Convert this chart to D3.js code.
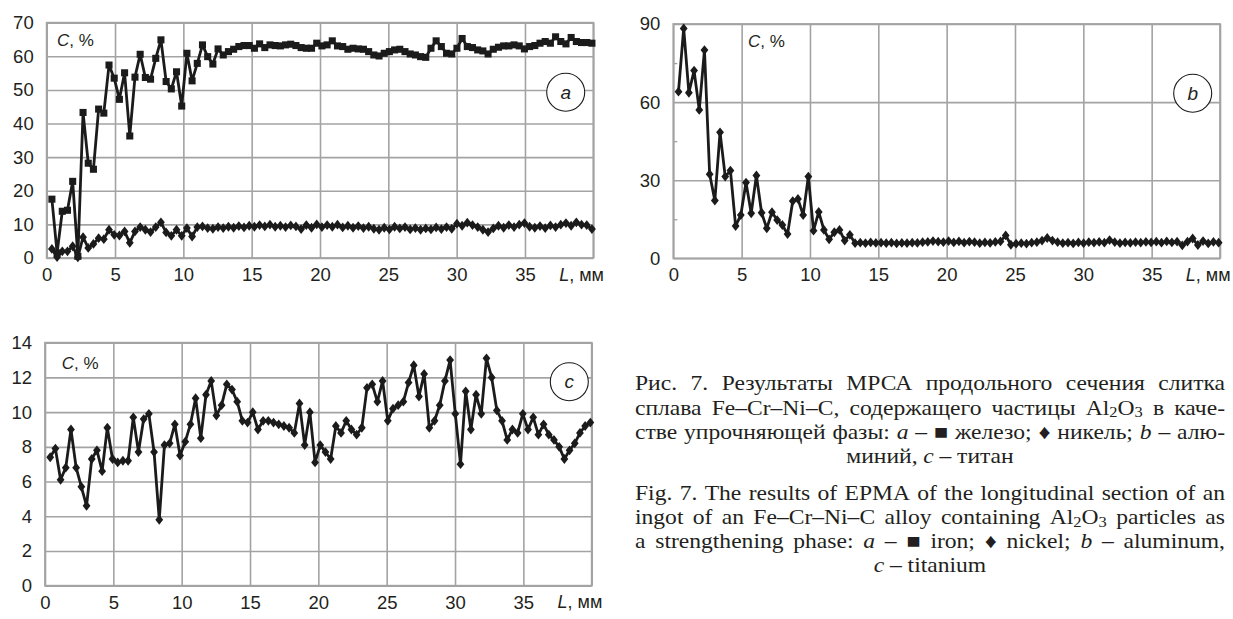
<!DOCTYPE html>
<html>
<head>
<meta charset="utf-8">
<script src="https://cdn.jsdelivr.net/npm/d3@7"></script>
<style>
  html, body { margin: 0; padding: 0; background: #fff; }
  svg { display: block; }
  .tick text { font-family: "Liberation Sans", Arial, sans-serif; font-size: 18.5px; fill: #231f20; }
</style>
</head>
<body>
<svg id="chart" width="1233" height="619"></svg>
<script>
// ---------- DATA ----------
// sample positions along the ingot, mm
const L = [0.38,0.76,1.14,1.52,1.90,2.28,2.66,3.04,3.42,3.80,4.18,4.56,4.94,5.32,5.70,6.08,6.46,6.84,7.22,7.60,
  7.98,8.36,8.74,9.12,9.50,9.88,10.26,10.64,11.02,11.40,11.78,12.16,12.54,12.92,13.30,13.68,14.06,14.44,14.82,15.20,
  15.58,15.96,16.34,16.72,17.10,17.48,17.86,18.24,18.62,19.00,19.38,19.76,20.14,20.52,20.90,21.28,21.66,22.04,22.42,22.80,
  23.18,23.56,23.94,24.32,24.70,25.08,25.46,25.84,26.22,26.60,26.98,27.36,27.74,28.12,28.50,28.88,29.26,29.64,30.02,30.40,
  30.78,31.16,31.54,31.92,32.30,32.68,33.06,33.44,33.82,34.20,34.58,34.96,35.34,35.72,36.10,36.48,36.86,37.24,37.62,38.00,
  38.38,38.76,39.14,39.52,39.90];

// (a) iron, %
const ironA = [17.5,1.5,13.9,14.2,22.8,0.5,43.3,28.2,26.4,44.3,43.1,57.4,53.5,47.2,55.1,36.3,53.8,60.6,53.7,53.2,
  59.4,64.9,52.5,50.3,55.4,45.2,60.9,52.7,57.9,63.4,59.9,57.7,62.2,60.4,61.4,62.1,62.9,63.2,63.2,62.4,
  63.7,62.6,63.4,63.2,63.1,63.4,63.6,63.2,62.6,62.4,62.4,63.9,63.1,63.4,64.6,63.1,62.9,62.1,62.4,62.2,
  62.1,61.4,60.4,60.1,60.9,61.4,61.9,62.1,61.4,60.7,60.4,59.9,59.7,62.4,64.6,62.9,60.9,60.7,62.4,65.3,
  62.9,62.6,61.9,61.6,60.7,62.1,62.7,63.1,63.1,63.4,63.1,62.2,62.9,63.2,63.9,64.4,63.9,65.8,64.4,63.7,
  65.6,64.4,64.1,64.1,63.9];
// (a) nickel, %
const nickelA = [2.7,0.3,2.0,2.0,3.5,0.2,6.2,3.0,4.2,5.9,5.6,8.4,6.9,6.7,7.9,4.5,7.9,9.2,8.4,7.7,
  9.2,10.6,7.6,6.6,8.4,6.6,8.9,6.4,9.2,9.4,8.9,8.7,9.2,8.9,9.3,9.0,9.5,9.1,9.6,9.3,
  9.8,9.4,9.9,9.3,9.6,9.2,9.7,9.4,8.6,9.8,9.0,10.0,9.2,9.8,9.3,9.9,9.1,9.6,9.0,9.5,
  8.9,9.3,8.7,8.4,9.0,8.5,9.3,8.8,9.2,8.5,8.9,8.4,8.8,8.5,9.1,8.6,9.2,8.7,10.2,9.6,
  10.5,9.8,9.2,8.4,7.7,8.8,9.6,9.0,9.8,9.2,9.9,10.4,9.3,9.0,9.5,8.9,9.7,9.2,9.9,10.4,
  9.6,10.6,9.9,9.8,8.6];
// (b) aluminum, %
const aluminumB = [64.0,88.3,63.6,72.1,57.0,80.0,32.3,22.2,48.4,31.4,33.7,12.4,16.6,29.1,17.3,31.8,17.5,11.5,17.7,14.7,
  12.8,9.3,22.0,22.8,16.6,31.4,10.6,17.8,10.9,7.3,10.0,10.9,6.8,9.0,5.8,6.0,5.8,6.1,5.9,6.0,
  5.8,6.0,5.7,5.9,5.8,6.0,5.9,6.2,6.3,6.6,6.4,6.2,6.6,6.1,6.5,6.0,6.4,6.2,5.8,6.1,
  5.9,6.3,6.5,8.8,5.2,5.6,5.8,5.6,6.0,6.2,6.8,7.8,6.8,6.2,5.8,6.0,5.7,6.1,5.8,6.2,
  6.0,6.3,6.0,7.0,6.2,5.8,6.1,5.9,6.2,6.0,6.3,6.1,6.4,6.0,6.5,6.1,6.4,5.0,6.4,7.6,
  5.1,6.6,5.7,6.3,6.0];
// (c) titanium, %
const titaniumC = [7.4,7.9,6.1,6.8,9.0,6.8,5.7,4.6,7.3,7.8,6.6,9.1,7.3,7.1,7.2,7.2,9.7,7.7,9.6,9.9,
  7.7,3.8,8.1,8.2,9.3,7.5,8.3,9.3,10.8,8.5,11.0,11.8,9.8,10.4,11.6,11.3,10.6,9.5,9.4,10.0,
  9.0,9.5,9.5,9.4,9.3,9.2,9.1,8.8,10.5,8.1,10.0,7.1,8.1,7.7,7.3,9.2,8.8,9.5,9.0,8.7,
  9.1,11.4,11.6,10.6,11.8,9.5,10.2,10.4,10.6,11.7,12.7,10.9,12.2,9.1,9.5,10.4,11.8,13.0,9.9,7.0,
  11.2,9.0,11.0,9.9,13.1,12.0,10.1,9.5,8.4,9.0,8.8,9.9,9.0,9.7,8.7,9.3,8.7,8.4,8.0,7.3,
  7.8,8.2,8.8,9.2,9.4];

// tick labels
const xTicks = [0,5,10,15,20,25,30,35];
const yTicksA = [0,10,20,30,40,50,60,70];
const yTicksB = [0,30,60,90];
const yMinorB = [15,45,75];
const yTicksC = [0,2,4,6,8,10,12,14];
const xLabel = "мм";
const yLabel = "%";

const captionRu = [
  "Рис. 7. Результаты МРСА продольного сечения слитка",
  "сплава Fe–Cr–Ni–C, содержащего частицы Al~2~O~3~ в каче-",
  "стве упрочняющей фазы: _a_ – ■ железо; ♦ никель; _b_ – алю-",
  "миний, _c_ – титан"
];
const captionEn = [
  "Fig. 7. The results of EPMA of the longitudinal section of an",
  "ingot of an Fe–Cr–Ni–C alloy containing Al~2~O~3~ particles as",
  "a strengthening phase: _a_ – ■ iron; ♦ nickel; _b_ – aluminum,",
  "_c_ – titanium"
];

// ---------- DRAWING ----------
const svg = d3.select("#chart");
svg.append("rect").attr("width", 1233).attr("height", 619).attr("fill", "#fff");

const GRID = "#a3a3a3";
const INK = "#1b1b1b";
const SANS = "'Liberation Sans', Arial, sans-serif";

// custom diamond marker (half-width 3.9, half-height 4.9)
const diamondType = { draw(ctx) { ctx.moveTo(0, -4.9); ctx.lineTo(3.9, 0); ctx.lineTo(0, 4.9); ctx.lineTo(-3.9, 0); ctx.closePath(); } };

function panel(cfg) {
  const g = svg.append("g");
  const x = d3.scaleLinear().domain([0, 40]).range([cfg.left, cfg.right]);
  const y = d3.scaleLinear().domain([0, cfg.ymax]).range([cfg.bottom, cfg.top]);
  const w = cfg.right - cfg.left, h = cfg.bottom - cfg.top;

  // grid
  g.append("g").attr("transform", `translate(0,${cfg.bottom})`)
    .call(d3.axisBottom(x).tickValues(xTicks.concat([40])).tickSize(-h).tickFormat(""))
    .call(s => s.select(".domain").remove())
    .selectAll("line").attr("stroke", GRID).attr("stroke-width", 1.6);
  g.append("g").attr("transform", `translate(${cfg.left},0)`)
    .call(d3.axisLeft(y).tickValues(cfg.yTicks).tickSize(-w).tickFormat(""))
    .call(s => s.select(".domain").remove())
    .selectAll("line").attr("stroke", GRID).attr("stroke-width", 1.6);
  if (cfg.minor) {
    g.append("g").attr("transform", `translate(${cfg.left},0)`)
      .call(d3.axisRight(y).tickValues(cfg.minor).tickSize(4).tickFormat(""))
      .call(s => s.select(".domain").remove())
      .selectAll("line").attr("stroke", GRID).attr("stroke-width", 1.4);
  }
  // frame
  g.append("rect").attr("x", cfg.left).attr("y", cfg.top).attr("width", w).attr("height", h)
    .attr("fill", "none").attr("stroke", GRID).attr("stroke-width", 1.8);

  // tick labels
  g.append("g").attr("transform", `translate(${cfg.left},0)`)
    .call(d3.axisLeft(y).tickValues(cfg.yTicks).tickSize(0).tickPadding(13))
    .call(s => s.select(".domain").remove());
  g.append("g").attr("transform", `translate(0,${cfg.bottom})`)
    .call(d3.axisBottom(x).tickValues(xTicks).tickSize(0).tickPadding(10))
    .call(s => s.select(".domain").remove());

  // axis titles
  const lt = g.append("text").attr("x", x(37.5)).attr("y", cfg.bottom + 10).attr("dy", "0.71em")
    .attr("font-family", SANS).attr("font-size", 18).attr("fill", "#231f20");
  lt.append("tspan").attr("font-style", "italic").text("L");
  lt.append("tspan").text(", " + xLabel);

  const ct = g.append("text").attr("x", cfg.cx).attr("y", cfg.cy)
    .attr("font-family", SANS).attr("font-size", 17).attr("fill", "#231f20");
  ct.append("tspan").attr("font-style", "italic").text("C");
  ct.append("tspan").text(", " + yLabel);

  // panel letter in circle
  g.append("circle").attr("cx", cfg.lx).attr("cy", cfg.ly).attr("r", 19)
    .attr("fill", "#fff").attr("stroke", INK).attr("stroke-width", 1.1);
  g.append("text").attr("x", cfg.lx).attr("y", cfg.ly).attr("dy", "0.35em")
    .attr("text-anchor", "middle").attr("font-family", SANS).attr("font-style", "italic")
    .attr("font-size", 19).attr("fill", "#231f20").text(cfg.letter);

  // series
  cfg.series.forEach(s => {
    const pts = L.map((l, i) => [l, s.values[i]]);
    g.append("path").datum(pts)
      .attr("d", d3.line().x(d => x(d[0])).y(d => y(d[1])))
      .attr("fill", "none").attr("stroke", INK).attr("stroke-width", 2.8).attr("stroke-linejoin", "round");
    const sym = s.shape === "square" ? d3.symbol().type(d3.symbolSquare).size(50) : d3.symbol().type(diamondType);
    g.append("g").selectAll("path").data(pts).join("path")
      .attr("transform", d => `translate(${x(d[0])},${y(d[1])})`)
      .attr("d", sym).attr("fill", INK);
  });
}

panel({ left: 46.7, right: 593.3, top: 22.7, bottom: 258, ymax: 70, yTicks: yTicksA,
  cx: 57, cy: 46, lx: 565.7, ly: 92.3, letter: "a",
  series: [{ values: ironA, shape: "square" }, { values: nickelA, shape: "diamond" }] });
panel({ left: 673.3, right: 1220, top: 24, bottom: 258.3, ymax: 90, yTicks: yTicksB, minor: yMinorB,
  cx: 748, cy: 47, lx: 1192.7, ly: 93.3, letter: "b",
  series: [{ values: aluminumB, shape: "diamond" }] });
panel({ left: 45, right: 591.7, top: 342.7, bottom: 585.7, ymax: 14, yTicks: yTicksC,
  cx: 61.7, cy: 369, lx: 569.3, ly: 381.7, letter: "c",
  series: [{ values: titaniumC, shape: "diamond" }] });

// ---------- CAPTION ----------
const SERIF = "'Liberation Serif', 'Times New Roman', 'DejaVu Serif', serif";
const CAP_FS = 20.5, SX = 1.15;   // caption type is set slightly wide
const cap = svg.append("g").attr("font-family", SERIF).attr("font-size", CAP_FS).attr("fill", "#231f20");

function parseRuns(word) {
  const runs = []; const re = /_(.+?)_|~(.+?)~|([^_~]+)/g; let m;
  while ((m = re.exec(word))) {
    if (m[1]) runs.push({ t: m[1], it: true });
    else if (m[2]) runs.push({ t: m[2], sub: true });
    else runs.push({ t: m[3] });
  }
  return runs;
}
function drawLine(str, yb, x0, x1, mode) {
  const lg = cap.append("g").attr("transform", `translate(${x0},${yb}) scale(${SX},1)`);
  const avail = (x1 - x0) / SX;
  const words = str.split(" ");
  const nodes = words.map(wd => {
    const t = lg.append("text").attr("y", 0);
    let off = 0;
    parseRuns(wd).forEach(r => {
      const ts = t.append("tspan").text(r.t);
      if (r.it) ts.attr("font-style", "italic");
      if (r.sub) { ts.attr("font-size", "0.7em").attr("dy", 2.5 - off); off = 2.5; }
      else if (off) { ts.attr("dy", -off); off = 0; }
    });
    return t;
  });
  const widths = nodes.map(n => n.node().getComputedTextLength());
  const total = d3.sum(widths);
  let gap, xx;
  if (mode === "justify") { gap = (avail - total) / (words.length - 1); xx = 0; }
  else { gap = 5; xx = avail / 2 - (total + gap * (words.length - 1)) / 2; }
  nodes.forEach((n, i) => { n.attr("x", xx); xx += widths[i] + gap; });
}
const X0 = 635, X1 = 1225;
const ruBase = [390, 414.5, 439, 463];
const enBase = [500, 524, 548, 572];
captionRu.forEach((s, i) => drawLine(s, ruBase[i], X0, X1, i < 3 ? "justify" : "center"));
captionEn.forEach((s, i) => drawLine(s, enBase[i], X0, X1, i < 3 ? "justify" : "center"));
</script>
</body>
</html>
